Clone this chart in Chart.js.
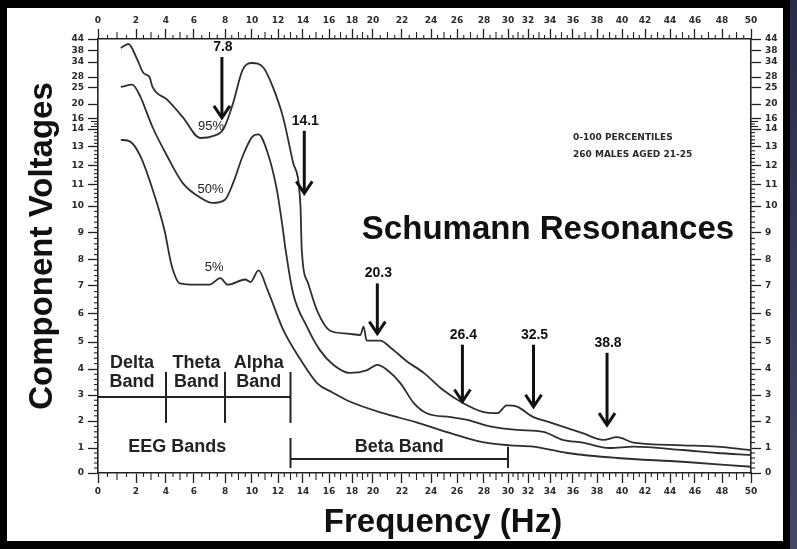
<!DOCTYPE html>
<html>
<head>
<meta charset="utf-8">
<script src="https://cdn.jsdelivr.net/npm/chart.js@4.4.1/dist/chart.umd.min.js"></script>
<style>
  html, body { margin: 0; padding: 0; background: #000; }
  body { width: 797px; height: 549px; position: relative; overflow: hidden; }
  #edge { position: absolute; left: 790px; top: 0; width: 7px; height: 549px; background: linear-gradient(#2a2c48, #45476a); }
  #paper { position: absolute; left: 7px; top: 8px; width: 776px; height: 533px; background: #fff; }
  #c { position: absolute; left: 0; top: 0; }
</style>
</head>
<body>
<div id="edge"></div>
<div id="paper"></div>
<canvas id="c" width="797" height="549"></canvas>
<script>
// percentile curves, frequency (Hz) / component voltage
const FREQ_95 = [1.2, 1.6, 2.1, 2.5, 2.9, 3.1, 4.1, 5.2, 6.4, 7.2, 7.9, 8.6, 9.3, 10.0, 10.9, 11.6, 12.4, 13.2, 13.8, 13.9, 14.4, 15.1, 16.1, 17.6, 18.8, 19.1, 19.4, 20.5, 21.2, 22.3, 23.5, 24.9, 26.4, 27.9, 29.1, 29.9, 30.9, 32.5, 34.0, 36.8, 38.5, 39.6, 41.0, 45.0, 47.6, 50.0];
const VOLT_95 = [39.5, 41.5, 34.7, 29.6, 28.0, 25.3, 21.3, 16.5, 13.5, 13.6, 14.0, 20.3, 30.8, 33.6, 31.6, 25.3, 16.5, 12.2, 10.0, 8.4, 7.1, 6.1, 5.4, 5.3, 5.25, 5.55, 5.05, 5.05, 4.8, 4.3, 3.85, 3.2, 2.7, 2.35, 2.3, 2.6, 2.55, 2.15, 1.95, 1.55, 1.3, 1.4, 1.2, 1.1, 1.05, 0.92];

const FREQ_50 = [1.2, 1.8, 2.3, 2.7, 3.1, 4.1, 5.2, 6.4, 7.2, 8.0, 8.6, 9.3, 10.0, 10.5, 11.2, 11.9, 12.4, 12.6, 13.2, 14.3, 15.3, 16.4, 17.8, 19.4, 20.3, 21.0, 21.9, 22.8, 23.7, 25.5, 26.7, 28.5, 30.9, 33.4, 35.1, 36.8, 39.0, 41.0, 45.0, 47.6, 50.0];
const VOLT_50 = [25.3, 25.9, 22.2, 17.9, 14.4, 12.5, 11.1, 10.4, 10.15, 10.3, 11.1, 12.5, 13.55, 13.7, 12.7, 10.8, 9.1, 8.4, 6.75, 5.55, 4.7, 4.15, 3.85, 3.95, 4.15, 3.95, 3.45, 2.7, 2.3, 2.15, 2.05, 1.8, 1.67, 1.6, 1.3, 1.2, 1.0, 1.05, 0.92, 0.8, 0.72];

const FREQ_05 = [1.2, 1.7, 2.3, 3.1, 3.9, 4.4, 5.0, 6.1, 7.0, 7.7, 8.2, 9.5, 9.9, 10.5, 11.2, 12.4, 13.8, 15.1, 16.3, 17.8, 20.7, 23.0, 25.5, 27.9, 30.2, 32.5, 35.5, 39.6, 45.0, 50.0];
const VOLT_05 = [13.4, 13.3, 12.5, 10.8, 9.1, 7.8, 7.1, 7.05, 7.05, 7.3, 7.05, 7.25, 7.15, 7.6, 6.85, 5.45, 4.35, 3.45, 3.1, 2.75, 2.3, 1.95, 1.55, 1.22, 1.1, 1.05, 0.8, 0.6, 0.45, 0.25];

const SERIES_NAMES = ['95%', '50%', '5%'];
const LABEL_FREQ = [7.1, 7.06, 7.3];
const LABEL_VOLT = [14.6, 10.8, 7.7];

// Schumann resonance arrows
const ARROW_FREQ = [7.8, 14.1, 20.3, 26.4, 32.5, 38.8];
const ARROW_TOP = [35.8, 13.9, 7.1, 4.9, 4.9, 4.6];
const ARROW_TIP = [16.3, 10.6, 5.3, 2.75, 2.55, 1.85];

// EEG bands
const EEG_EDGES = [0, 4, 8, 13];
const EEG_NAMES = ['Delta', 'Theta', 'Alpha'];
const BETA_EDGES = [13, 30];

// axis ticks (the printed scales are not uniform)
const X_TICKS = [0, 2, 4, 6, 8, 10, 12, 14, 16, 18, 20, 22, 24, 26, 28, 30, 32, 34, 36, 38, 40, 42, 44, 46, 48, 50];
const X_KNOTS = [[0, 0], [2, 0.0582], [4, 0.1041], [6, 0.1470], [8, 0.1945], [10, 0.2358], [12, 0.2757], [14, 0.3139], [16, 0.3538], [18, 0.3890], [20, 0.4211], [22, 0.4655], [24, 0.5100], [26, 0.5498], [28, 0.5911], [30, 0.6279], [32, 0.6585], [34, 0.6922], [36, 0.7274], [38, 0.7642], [40, 0.8025], [42, 0.8377], [44, 0.8760], [46, 0.9142], [48, 0.9556], [50, 1]];
const Y_TICKS = [0, 1, 2, 3, 4, 5, 6, 7, 8, 9, 10, 11, 12, 13, 14, 16, 20, 25, 28, 34, 38, 44];
const Y_KNOTS = [[0, 0], [1, 0.0576], [2, 0.1198], [3, 0.1797], [4, 0.2396], [5, 0.3018], [6, 0.3664], [7, 0.4309], [8, 0.4908], [9, 0.5530], [10, 0.6152], [11, 0.6636], [12, 0.7074], [13, 0.7512], [14, 0.7926], [16, 0.8157], [20, 0.8502], [25, 0.8871], [28, 0.9124], [34, 0.9470], [38, 0.9724], [44, 1]];

function interp(k, v, a, b) {
  let i = 0;
  while (i < k.length - 2 && v > k[i + 1][a]) i++;
  const p = k[i], q = k[i + 1];
  return p[b] + (v - p[a]) * (q[b] - p[b]) / (q[a] - p[a]);
}

class PiecewiseScale extends Chart.LinearScale {
  determineDataLimits() {
    this.min = this.options.min;
    this.max = this.options.max;
  }
  buildTicks() {
    return this.options.tickValues.map(v => ({ value: v }));
  }
  getPixelForValue(v) {
    return this.getPixelForDecimal(interp(this.options.knots, v, 0, 1));
  }
  getValueForPixel(p) {
    return interp(this.options.knots, this.getDecimalForPixel(p), 1, 0);
  }
}
PiecewiseScale.id = 'piecewise';
PiecewiseScale.defaults = Chart.LinearScale.defaults;
Chart.register(PiecewiseScale);

const INK = '#222';
const tickFont = { family: '"DejaVu Sans", sans-serif', size: 9, weight: 'bold' };

function axis(pos, knots, ticks, max, size) {
  const horiz = pos === 'top' || pos === 'bottom';
  return {
    type: 'piecewise',
    position: pos,
    min: 0,
    max: max,
    knots: knots,
    tickValues: ticks,
    grid: { drawOnChartArea: false, drawTicks: true, tickLength: 10, tickColor: INK, tickWidth: 1.3 },
    border: { display: true, color: INK, width: 1.6 },
    ticks: { font: tickFont, color: '#2a2a2a', padding: horiz ? 3 : 4, autoSkip: false, maxRotation: 0, callback: v => String(v) },
    afterFit: s => { if (horiz) s.height = size; else s.width = size; }
  };
}

const decor = {
  id: 'decor',
  afterDraw(chart) {
    const ctx = chart.ctx;
    const { x, x2, y, y2 } = chart.scales;
    const line = (a, b, c, d) => { ctx.beginPath(); ctx.moveTo(a, b); ctx.lineTo(c, d); ctx.stroke(); };
    const text = (s, px, py, font, align) => {
      ctx.font = font; ctx.textAlign = align || 'center'; ctx.textBaseline = 'middle'; ctx.fillText(s, px, py);
    };
    ctx.save();
    ctx.strokeStyle = INK;
    ctx.fillStyle = INK;

    // minor ticks
    ctx.lineWidth = 1.1;
    for (let i = 1; i < 100; i++) {
      const v = i / 2;
      if (v % 2 === 0) continue;
      const len = Number.isInteger(v) ? 7 : 4;
      const px = x.getPixelForValue(v);
      line(px, x.top, px, x.top + len);
      line(px, x2.bottom, px, x2.bottom - len);
    }
    const minorY = [];
    for (let i = 1; i < 70; i++) if (i % 5) minorY.push(i / 5);
    minorY.push(14.5, 15, 15.5);
    minorY.forEach(v => {
      const len = (v * 2) % 2 === 1 ? 7 : 4;
      const py = y.getPixelForValue(v);
      line(y.right - len, py, y.right, py);
      line(y2.left, py, y2.left + len, py);
    });

    // EEG band bracket
    ctx.lineWidth = 2;
    const by = y.getPixelForValue(2.92);
    line(x.getPixelForValue(EEG_EDGES[0]), by, x.getPixelForValue(EEG_EDGES[3]), by);
    EEG_EDGES.slice(1).forEach(f => {
      const px = x.getPixelForValue(f);
      line(px, y.getPixelForValue(3.89), px, y.getPixelForValue(1.93));
    });
    const bandFont = 'bold 18px "Liberation Sans", Arial, sans-serif';
    EEG_NAMES.forEach((n, i) => {
      const px = (x.getPixelForValue(EEG_EDGES[i]) + x.getPixelForValue(EEG_EDGES[i + 1])) / 2 + (i === 0 ? 0 : 1);
      text(n, px, y.getPixelForValue(4.22), bandFont);
      text('Band', px, y.getPixelForValue(3.5), bandFont);
    });
    text('EEG Bands', x.getPixelForValue(4.8), y.getPixelForValue(1.04), bandFont);

    // Beta band bracket
    const b0 = x.getPixelForValue(BETA_EDGES[0]), b1 = x.getPixelForValue(BETA_EDGES[1]);
    const bl = y.getPixelForValue(0.56);
    line(b0, bl, b1, bl);
    line(b0, y.getPixelForValue(1.37), b0, y.getPixelForValue(0.2));
    line(b1, y.getPixelForValue(1.04), b1, y.getPixelForValue(0.2));
    text('Beta Band', (b0 + b1) / 2, y.getPixelForValue(1.04), bandFont);

    // curve labels
    SERIES_NAMES.forEach((n, i) => {
      text(n, x.getPixelForValue(LABEL_FREQ[i]), y.getPixelForValue(LABEL_VOLT[i]), '13px "Liberation Sans", Arial, sans-serif');
    });

    // resonance arrows
    ctx.strokeStyle = '#111';
    ctx.fillStyle = '#111';
    ctx.lineWidth = 3;
    ctx.lineJoin = 'miter';
    ARROW_FREQ.forEach((f, i) => {
      const px = x.getPixelForValue(f);
      const top = y.getPixelForValue(ARROW_TOP[i]);
      const tip = y.getPixelForValue(ARROW_TIP[i]);
      line(px, top, px, tip - 1);
      ctx.beginPath(); ctx.moveTo(px - 8, tip - 12); ctx.lineTo(px, tip); ctx.lineTo(px + 8, tip - 12); ctx.stroke();
      text(f.toFixed(1), px + 1, top - 10, 'bold 14px "Liberation Sans", Arial, sans-serif');
    });

    // titles and notes
    ctx.fillStyle = '#111';
    const big = 'bold 33px "Liberation Sans", Arial, sans-serif';
    ctx.font = big; ctx.textAlign = 'center'; ctx.textBaseline = 'alphabetic';
    ctx.fillText('Schumann Resonances', 548, 239);
    ctx.fillText('Frequency (Hz)', 443, 532);
    ctx.save();
    ctx.translate(52, 246);
    ctx.rotate(-Math.PI / 2);
    ctx.fillText('Component Voltages', 0, 0);
    ctx.restore();
    ctx.fillStyle = '#2a2a2a';
    ctx.font = 'bold 9px "DejaVu Sans", sans-serif';
    ctx.textAlign = 'left';
    ctx.fillText('0-100 PERCENTILES', 573, 140, 110);
    ctx.fillText('260 MALES AGED 21-25', 573, 157, 137);
    ctx.restore();
  }
};

const curves = [[FREQ_95, VOLT_95], [FREQ_50, VOLT_50], [FREQ_05, VOLT_05]];

new Chart(document.getElementById('c'), {
  type: 'line',
  data: {
    datasets: curves.map((c, i) => ({
      label: SERIES_NAMES[i],
      data: c[0].map((f, j) => ({ x: f, y: c[1][j] })),
      borderColor: '#2e2e2e',
      borderWidth: 1.8,
      pointRadius: 0,
      cubicInterpolationMode: 'monotone',
      xAxisID: 'x',
      yAxisID: 'y'
    }))
  },
  options: {
    responsive: false,
    animation: false,
    layout: { padding: 0 },
    plugins: { legend: { display: false }, tooltip: { enabled: false } },
    scales: {
      x: axis('bottom', X_KNOTS, X_TICKS, 50, 76),
      x2: axis('top', X_KNOTS, X_TICKS, 50, 39),
      y: axis('left', Y_KNOTS, Y_TICKS, 44, 98),
      y2: axis('right', Y_KNOTS, Y_TICKS, 44, 46)
    }
  },
  plugins: [decor]
});
</script>
</body>
</html>
